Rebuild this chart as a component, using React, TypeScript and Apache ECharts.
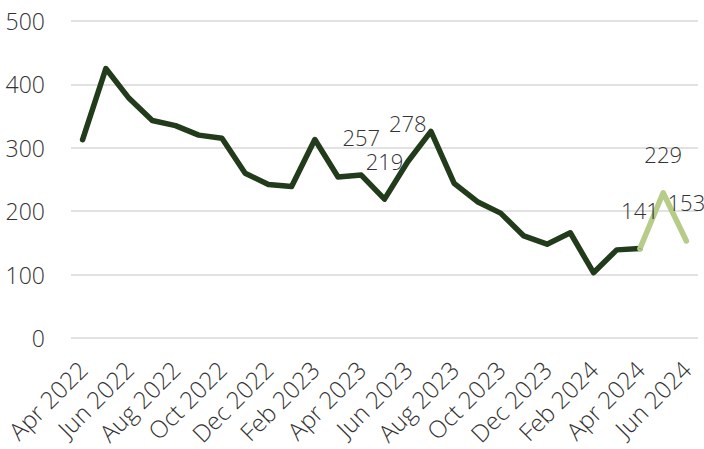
import React, { useEffect, useRef } from "react";
import * as echarts from "echarts";

const categories = [
  "Apr 2022", "May 2022", "Jun 2022", "Jul 2022", "Aug 2022", "Sep 2022", "Oct 2022",
  "Nov 2022", "Dec 2022", "Jan 2023", "Feb 2023", "Mar 2023", "Apr 2023", "May 2023",
  "Jun 2023", "Jul 2023", "Aug 2023", "Sep 2023", "Oct 2023", "Nov 2023", "Dec 2023",
  "Jan 2024", "Feb 2024", "Mar 2024", "Apr 2024", "May 2024", "Jun 2024",
];

const actualValues: (number | null)[] = [
  313, 425, 378, 343, 335, 320, 315, 260, 242, 239, 313, 254, 257, 219,
  278, 326, 244, 215, 197, 161, 148, 166, 103, 139, 141, null, null,
];

const forecastValues: (number | null)[] = [
  null, null, null, null, null, null, null, null, null, null, null, null, null, null,
  null, null, null, null, null, null, null, null, null, null, 141, 229, 153,
];

const actualLabelIdx = [12, 13, 14];
const forecastLabelIdx = [24, 25, 26];

const yTicks = { min: 0, max: 500, interval: 100 };

const FONT = "'Open Sans', 'Noto Sans', sans-serif";
const TEXT = "#333333";

export default function App() {
  const ref = useRef<HTMLDivElement>(null);
  useEffect(() => {
    if (!ref.current) return;
    const chart = echarts.init(ref.current, undefined, { renderer: "svg" });
    const labelStyle = {
      show: true,
      position: "top" as const,
      distance: 27,
      fontSize: 22,
      fontFamily: FONT,
      fontWeight: 300,
      color: TEXT,
    };
    const mk = (vals: (number | null)[], idx: number[]) =>
      vals.map((v, i) =>
        idx.includes(i) ? { value: v, label: labelStyle } : { value: v }
      );
    chart.setOption({
      animation: false,
      grid: { left: 71, right: 6, top: 21, bottom: 111, containLabel: false },
      xAxis: {
        type: "category",
        data: categories,
        boundaryGap: true,
        axisLine: { show: false },
        axisTick: { show: false },
        axisLabel: {
          interval: 1,
          rotate: 45,
          margin: 27,
          fontSize: 24,
          fontFamily: FONT,
          fontWeight: 300,
          color: TEXT,
        },
      },
      yAxis: {
        type: "value",
        min: yTicks.min,
        max: yTicks.max,
        interval: yTicks.interval,
        axisLine: { show: false },
        axisTick: { show: false },
        splitLine: { lineStyle: { color: "#d9d9d9", width: 1.5 } },
        axisLabel: {
          margin: 26,
          fontSize: 23,
          fontFamily: FONT,
          fontWeight: 300,
          color: TEXT,
        },
      },
      series: [
        {
          type: "line",
          data: mk(actualValues, actualLabelIdx),
          showSymbol: true,
          showAllSymbol: true,
          symbol: "circle",
          symbolSize: 1,
          lineStyle: { color: "#213b1b", width: 5.5, cap: "round", join: "round" },
          itemStyle: { color: "#213b1b" },
          label: { show: false },
        },
        {
          type: "line",
          data: mk(forecastValues, forecastLabelIdx),
          showSymbol: true,
          showAllSymbol: true,
          symbol: "circle",
          symbolSize: 1,
          lineStyle: { color: "#b7cc88", width: 5.5, cap: "round", join: "round" },
          itemStyle: { color: "#b7cc88" },
          label: { show: false },
        },
      ],
    });
    return () => chart.dispose();
  }, []);
  return (
    <div
      ref={ref}
      style={{ position: "fixed", left: 0, top: 0, width: 704, height: 449, background: "#fff" }}
    />
  );
}
